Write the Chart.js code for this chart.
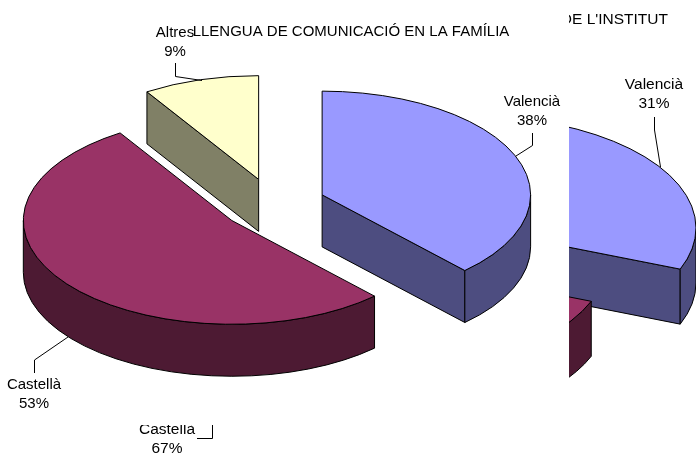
<!DOCTYPE html>
<html>
<head>
<meta charset="utf-8">
<style>
html,body{margin:0;padding:0;background:#fff;width:696px;height:454px;overflow:hidden}
#wrap{position:relative;width:696px;height:454px}
canvas{position:absolute;left:0;top:0;display:block}
</style>
<script src="https://cdn.jsdelivr.net/npm/chart.js@4"></script>
</head>
<body>
<div id="wrap">
<canvas id="back" width="696" height="454"></canvas>
<canvas id="front" width="569" height="425"></canvas>
</div>
<script>
const categories = ['Valencià', 'Castellà', 'Altres'];
const familyShares = [38, 53, 9];
const instituteShares = [31, 67, 2];
const familyTitle = 'LLENGUA DE COMUNICACIÓ EN LA FAMÍLIA';
const instituteTitle = "DE L'INSTITUT";
const topColors = ['#9999FF', '#993366', '#FFFFCC'];
const wallColors = ['#4D4D80', '#4D1A33', '#808066'];

const TILT = 0.4976;

function pie3d(cfg) {
  return {
    id: 'pie3d',
    afterDatasetsUpdate(chart) {
      const arcs = chart.getDatasetMeta(0).data;
      arcs.forEach(a => {
        const mid = (a.startAngle + a.endAngle) / 2;
        if (a.baseX === undefined) { a.baseX = a.x; a.baseY = a.y; }
        a.x = a.baseX + Math.cos(mid) * cfg.explode;
        a.y = a.baseY / TILT + Math.sin(mid) * cfg.explode;
      });
    },
    beforeDatasetsDraw(chart) {
      const ctx = chart.ctx;
      const arcs = chart.getDatasetMeta(0).data;
      ctx.save();
      ctx.beginPath();
      ctx.rect(0, 0, chart.width, cfg.pieBottom);
      ctx.clip();
      ctx.save();
      ctx.lineWidth = 1;
      ctx.strokeStyle = '#000';
      const order = arcs.map((a, i) => i).sort((p, q) => arcs[p].y - arcs[q].y);
      order.forEach(i => {
        const a = arcs[i];
        const cx = a.x, cy = a.y * TILT, R = a.outerRadius, r = R * TILT, D = cfg.depth;
        ctx.fillStyle = wallColors[i];
        const faces = [];
        if (Math.cos(a.startAngle) < -1e-6) faces.push(a.startAngle);
        if (Math.cos(a.endAngle) > 1e-6) faces.push(a.endAngle);
        faces.forEach(t => {
          const ex = cx + Math.cos(t) * R, ey = cy + Math.sin(t) * r;
          ctx.beginPath();
          ctx.moveTo(cx, cy);
          ctx.lineTo(ex, ey);
          ctx.lineTo(ex, ey + D);
          ctx.lineTo(cx, cy + D);
          ctx.closePath();
          ctx.fill();
          ctx.stroke();
        });
        // the outer rim only shows on the near half of the ellipse
        for (let k = -1; k <= 1; k++) {
          const t0 = Math.max(a.startAngle, k * 2 * Math.PI);
          const t1 = Math.min(a.endAngle, k * 2 * Math.PI + Math.PI);
          if (t1 <= t0) continue;
          ctx.beginPath();
          ctx.ellipse(cx, cy, R, r, 0, t0, t1, false);
          ctx.ellipse(cx, cy + D, R, r, 0, t1, t0, true);
          ctx.closePath();
          ctx.fill();
          ctx.stroke();
        }
      });
      ctx.restore();
      ctx.save();
      ctx.scale(1, TILT);
    },
    afterDatasetsDraw(chart) {
      const ctx = chart.ctx;
      ctx.restore();
      ctx.save();
      ctx.lineWidth = 1;
      ctx.strokeStyle = '#000';
      chart.getDatasetMeta(0).data.forEach(a => {
        const cx = a.x, cy = a.y * TILT;
        ctx.beginPath();
        ctx.moveTo(cx, cy);
        ctx.ellipse(cx, cy, a.outerRadius, a.outerRadius * TILT, 0, a.startAngle, a.endAngle, false);
        ctx.closePath();
        ctx.stroke();
      });
      ctx.restore();
      ctx.restore();
    },
    afterDraw(chart) {
      const ctx = chart.ctx;
      ctx.save();
      ctx.lineWidth = 1;
      ctx.strokeStyle = '#000';
      cfg.leaders.forEach(path => {
        ctx.beginPath();
        path.forEach((p, n) => n ? ctx.lineTo(p[0], p[1]) : ctx.moveTo(p[0], p[1]));
        ctx.stroke();
      });
      ctx.fillStyle = '#000';
      ctx.font = cfg.fontSize + 'px "Liberation Sans", Arial, sans-serif';
      ctx.textBaseline = 'middle';
      cfg.labels.forEach(l => {
        ctx.textAlign = 'center';
        const idx = l.index;
        ctx.fillText(categories[idx], l.x, l.y);
        ctx.fillText(cfg.values[idx] + '%', l.x, l.y + cfg.lineGap);
      });
      ctx.textAlign = cfg.title.align;
      ctx.fillText(cfg.title.text, cfg.title.x, cfg.title.y);
      ctx.restore();
    }
  };
}

function build(id, cfg) {
  return new Chart(document.getElementById(id), {
    type: 'pie',
    data: {
      labels: categories,
      datasets: [{
        data: cfg.values,
        backgroundColor: topColors,
        borderWidth: 0,
        radius: cfg.radius,
        clip: false
      }]
    },
    options: {
      responsive: false,
      animation: false,
      layout: { padding: cfg.padding },
      plugins: { legend: { display: false }, tooltip: { enabled: false }, title: { display: false } },
      events: []
    },
    plugins: [pie3d(cfg)]
  });
}

build('back', {
  values: instituteShares,
  radius: 225,
  explode: 55,
  depth: 55,
  pieBottom: 424,
  fontSize: 15.5,
  lineGap: 19,
  padding: { left: 155, top: 32.6, right: 0, bottom: 0 },
  title: { text: instituteTitle, x: 668, y: 20, align: 'right' },
  labels: [{ index: 0, x: 654, y: 85 }, { index: 1, x: 167, y: 429.5 }],
  leaders: [
    [[654.5, 117], [654.5, 130], [660.5, 167]],
    [[212.5, 425], [212.5, 438.5], [197, 438.5]]
  ]
});

document.getElementById('front').style.background = '#fff';
build('front', {
  values: familyShares,
  radius: 208.5,
  explode: 52.5,
  depth: 52,
  pieBottom: 425,
  fontSize: 15,
  lineGap: 18.5,
  padding: { right: 22.4, bottom: 16, left: 0, top: 0 },
  title: { text: familyTitle, x: 351, y: 32, align: 'center' },
  labels: [
    { index: 2, x: 175, y: 33 },
    { index: 0, x: 532, y: 102 },
    { index: 1, x: 34, y: 385 }
  ],
  leaders: [
    [[175.5, 63], [175.5, 76.5], [202, 80.5]],
    [[532.5, 133], [532.5, 145.5], [516, 156]],
    [[34.5, 373], [34.5, 360], [68, 337]]
  ]
});
</script>
</body>
</html>
